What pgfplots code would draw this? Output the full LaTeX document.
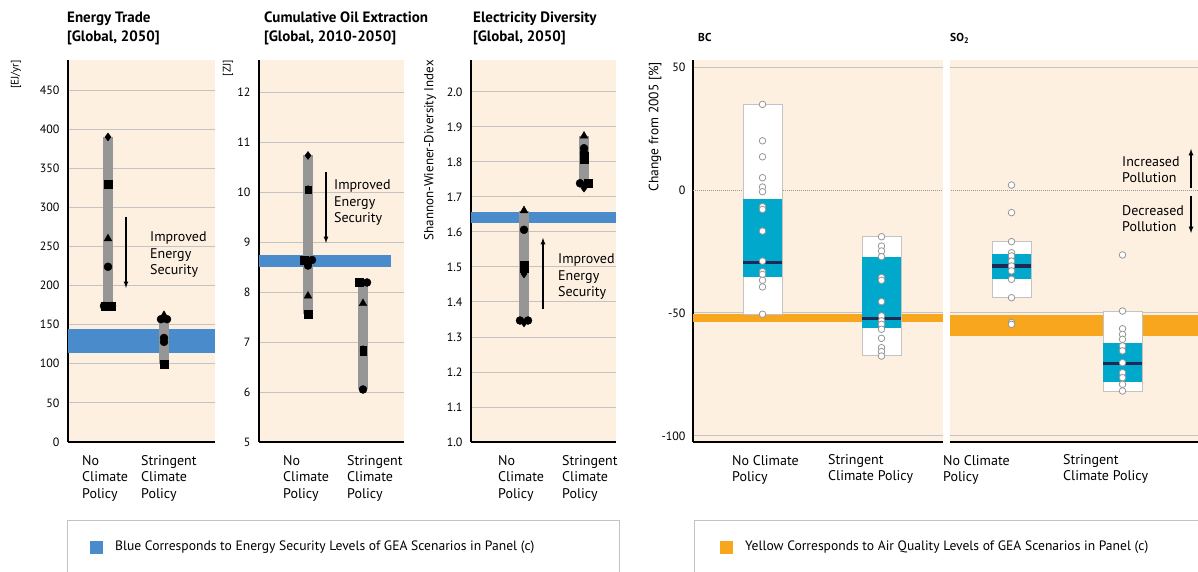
\documentclass[border=0pt]{standalone}
\usepackage{pgfplots}
\pgfplotsset{compat=1.18}
\usepackage{fontspec}
\setmainfont{PT Sans}
\definecolor{peach}{RGB}{253,240,225}
\definecolor{bandblue}{RGB}{74,139,203}
\definecolor{bargray}{RGB}{150,150,150}
\definecolor{boxcyan}{RGB}{0,168,204}
\definecolor{navy}{RGB}{28,42,85}
\definecolor{bandorange}{RGB}{249,166,31}
\definecolor{gridgray}{RGB}{195,195,195}
\definecolor{circgray}{RGB}{150,150,150}
\pgfplotsset{
  leftpanel/.style={
    anchor=south west, scale only axis, height=382pt,
    axis x line*=bottom, axis y line*=left,
    axis line style={line width=2pt, black, -},
    xtick=\empty, ymajorgrids, grid style={gridgray, line width=0.9pt},
    major tick length=0pt,
    axis background/.style={fill=peach},
    yticklabel style={font=\fontsize{12}{13}\selectfont, xshift=-5pt},
  },
  mk/.style={only marks, black, mark size=4pt, mark options={fill=black, draw=black}},
  circ/.style={only marks, mark=*, mark size=3.3pt, mark options={fill=white, draw=circgray, line width=0.8pt}},
}
\tikzset{
  ann/.style={anchor=north west, inner sep=0pt, align=left, font=\fontsize{14}{16.5}\selectfont},
  cat/.style={anchor=north west, inner sep=0pt, align=left, font=\fontsize{14}{16.5}\selectfont},
  ttl/.style={anchor=north west, inner sep=0pt, align=left, font=\bfseries\fontsize{15}{19}\selectfont},
}
\begin{document}
\begin{tikzpicture}
\useasboundingbox (0,0) rectangle (1198pt,572pt);

% ---------- Panel 1: Energy Trade ----------
\begin{axis}[leftpanel, at={(68pt,130pt)}, width=147pt,
  xmin=68, xmax=215, ymin=0, ymax=488.4,
  ytick={0,50,100,150,200,250,300,350,400,450},
  yticklabels={0,50,100,150,200,250,300,350,400,450}]
\addplot[fill=bandblue, draw=none] coordinates {(68,114) (215,114) (215,145) (68,145)} -- cycle;
\addplot[bargray, line width=10pt] coordinates {(108,174) (108,390)};
\addplot[bargray, line width=10pt] coordinates {(164,100) (164,157)};
\addplot[mk, mark=diamond*] coordinates {(108,390)};
\addplot[mk, mark=square*] coordinates {(108,330) (164,100) (105,174) (111,174)};
\addplot[mk, mark=triangle*, mark size=4.5pt] coordinates {(108,260) (164,162)};
\addplot[mk, mark=*] coordinates {(108,224) (104,174) (112,174) (161,157) (167,157) (164,133) (164,128)};
\draw[-latex, line width=1.2pt] (axis cs:126,288) -- (axis cs:126,197);
\node[ann] at (axis cs:150,268.5) {Improved\\Energy\\Security};
\end{axis}

% ---------- Panel 2: Cumulative Oil Extraction ----------
\begin{axis}[leftpanel, at={(259pt,130pt)}, width=145pt,
  xmin=259, xmax=404, ymin=5, ymax=12.64,
  ytick={5,6,7,8,9,10,11,12},
  yticklabels={5,6,7,8,9,10,11,12}]
\addplot[fill=bandblue, draw=none] coordinates {(259,8.5) (391,8.5) (391,8.74) (259,8.74)} -- cycle;
\addplot[bargray, line width=10pt] coordinates {(308,7.56) (308,10.73)};
\addplot[bargray, line width=10pt] coordinates {(363,6.05) (363,8.19)};
\addplot[mk, mark=diamond*] coordinates {(308,10.73) (308,10.05) (363,6.85) (363,6.81)};
\addplot[mk, mark=square*, mark size=3.3pt] coordinates {(308,10.05) (363,6.85) (363,6.81)};
\addplot[mk, mark=square*] coordinates {(308,7.56) (304,8.64) (359,8.19)};
\addplot[mk, mark=triangle*, mark size=4.5pt] coordinates {(308,7.92) (363,7.77)};
\addplot[mk, mark=*] coordinates {(312,8.64) (308,8.53) (367,8.19) (363,6.05)};
\draw[-latex, line width=1.2pt] (axis cs:326,10.4) -- (axis cs:326,8.98);
\node[ann] at (axis cs:334,10.24) {Improved\\Energy\\Security};
\end{axis}

% ---------- Panel 3: Electricity Diversity ----------
\begin{axis}[leftpanel, at={(471pt,130pt)}, width=145pt,
  xmin=471, xmax=616, ymin=1.0, ymax=2.091,
  ytick={1.0,1.1,1.2,1.3,1.4,1.5,1.6,1.7,1.8,1.9,2.0},
  yticklabels={1.0,1.1,1.2,1.3,1.4,1.5,1.6,1.7,1.8,1.9,2.0}]
\addplot[fill=bandblue, draw=none] coordinates {(471,1.626) (616,1.626) (616,1.656) (471,1.656)} -- cycle;
\addplot[bargray, line width=10pt] coordinates {(524,1.347) (524,1.661)};
\addplot[bargray, line width=10pt] coordinates {(584,1.725) (584,1.874)};
\addplot[mk, mark=triangle*, mark size=4.5pt] coordinates {(524,1.661) (584,1.874)};
\addplot[mk, mark=*] coordinates {(524,1.606) (584,1.839) (584,1.827) (520,1.347) (528,1.347) (580,1.739)};
\addplot[mk, mark=square*] coordinates {(524,1.506) (524,1.496) (584,1.817) (584,1.808) (588,1.739)};
\addplot[mk, mark=diamond*] coordinates {(524,1.48) (584,1.725) (524,1.340)};
\draw[-latex, line width=1.2pt] (axis cs:543,1.38) -- (axis cs:543,1.583);
\node[ann] at (axis cs:558,1.537) {Improved\\Energy\\Security};
\end{axis}

% ---------- Right panel: BC and SO2 ----------
\begin{axis}[anchor=south west, at={(693pt,130pt)}, scale only axis, width=505pt, height=382pt,
  xmin=693, xmax=1198, ymin=-102.44, ymax=52.85, clip=false,
  axis x line*=bottom, axis y line*=left, axis line style={line width=2.5pt, black, -},
  xtick=\empty, ytick={-100,-50,50}, yticklabels={-100,-50,50},
  extra y ticks={0}, extra y tick labels={0},
  extra y tick style={grid style={densely dotted, circgray, line width=1pt}},
  ymajorgrids, grid style={gridgray, line width=1pt}, major tick length=0pt,
  axis background/.style={fill=peach},
  yticklabel style={font=\fontsize{12}{13}\selectfont, xshift=-4pt}]
% orange bands
\addplot[fill=bandorange, draw=none] coordinates {(693,-50.5) (943,-50.5) (943,-53.5) (693,-53.5)} -- cycle;
\addplot[fill=bandorange, draw=none] coordinates {(950,-50.8) (1198,-50.8) (1198,-59.3) (950,-59.3)} -- cycle;
% white gap
\addplot[fill=white, draw=none] coordinates {(943,-104.5) (950,-104.5) (950,52.85) (943,52.85)} -- cycle;
% BC no climate
\addplot[fill=white, draw=gridgray, line width=0.8pt] coordinates {(743,35) (782,35) (782,-50.5) (743,-50.5)} -- cycle;
\addplot[fill=boxcyan, draw=none] coordinates {(743,-3.8) (782,-3.8) (782,-35.2) (743,-35.2)} -- cycle;
\addplot[navy, line width=3.5pt] coordinates {(743,-29.5) (782,-29.5)};
% BC stringent
\addplot[fill=white, draw=gridgray, line width=0.8pt] coordinates {(862,-19) (901,-19) (901,-67.2) (862,-67.2)} -- cycle;
\addplot[fill=boxcyan, draw=none] coordinates {(862,-27.1) (901,-27.1) (901,-56) (862,-56)} -- cycle;
\addplot[navy, line width=3.5pt] coordinates {(862,-52.2) (901,-52.2)};
% SO2 no climate
\addplot[fill=white, draw=gridgray, line width=0.8pt] coordinates {(992,-21) (1031,-21) (1031,-43.8) (992,-43.8)} -- cycle;
\addplot[fill=boxcyan, draw=none] coordinates {(992,-26.2) (1031,-26.2) (1031,-36.3) (992,-36.3)} -- cycle;
\addplot[navy, line width=3.5pt] coordinates {(992,-30.9) (1031,-30.9)};
% SO2 stringent
\addplot[fill=white, draw=gridgray, line width=0.8pt] coordinates {(1103,-49.2) (1142,-49.2) (1142,-81.7) (1103,-81.7)} -- cycle;
\addplot[fill=boxcyan, draw=none] coordinates {(1103,-62) (1142,-62) (1142,-77.9) (1103,-77.9)} -- cycle;
\addplot[navy, line width=3.5pt] coordinates {(1103,-70.5) (1142,-70.5)};
% scenario circles
\addplot[circ] coordinates {(762.5,34.8) (762.5,20) (762.5,13.5) (762.5,5) (762.5,1.2) (762.5,-0.7) (762.5,-6.8) (762.5,-7.9) (762.5,-16.7) (762.5,-28.9) (762.5,-33.2) (762.5,-34.3) (762.5,-36.7) (762.5,-39.4) (762.5,-50.5)};
\addplot[circ] coordinates {(881.5,-19) (881.5,-22.8) (881.5,-24.8) (881.5,-27.1) (881.5,-35.6) (881.5,-36.7) (881.5,-45.4) (881.5,-51.2) (881.5,-53.2) (881.5,-54.6) (881.5,-56.6) (881.5,-60.3) (881.5,-64.1) (881.5,-65.7) (881.5,-67.5)};
\addplot[circ] coordinates {(1011.5,2) (1011.5,-9.2) (1011.5,-21) (1011.5,-25.5) (1011.5,-26.8) (1011.5,-28.9) (1011.5,-30.9) (1011.5,-32.9) (1011.5,-36.3) (1011.5,-43.8) (1011.5,-53.9) (1011.5,-54.6)};
\addplot[circ] coordinates {(1122.5,-26.4) (1122.5,-49.2) (1122.5,-56.4) (1122.5,-58.7) (1122.5,-60.7) (1122.5,-63.4) (1122.5,-65.4) (1122.5,-70.2) (1122.5,-74.3) (1122.5,-76.3) (1122.5,-79) (1122.5,-81.7)};
% annotations
\node[ann] at (axis cs:1122,13.8) {Increased\\Pollution};
\node[ann] at (axis cs:1122,-6.2) {Decreased\\Pollution};
\draw[-latex, line width=1.2pt] (axis cs:1191,0.8) -- (axis cs:1191,16.7);
\draw[-latex, line width=1.2pt] (axis cs:1191,-2.4) -- (axis cs:1191,-17.5);
\end{axis}

% ---------- Titles ----------
\node[ttl] at (67pt,560pt) {Energy Trade\\{}[Global, 2050]};
\node[ttl] at (264pt,560pt) {Cumulative Oil Extraction\\{}[Global, 2010-2050]};
\node[ttl] at (473pt,560pt) {Electricity Diversity\\{}[Global, 2050]};
\node[anchor=base west, inner sep=0pt, font=\bfseries\fontsize{11.5}{12}\selectfont] at (698pt,530pt) {BC};
\node[anchor=base west, inner sep=0pt, font=\bfseries\fontsize{11.5}{12}\selectfont] at (950pt,530pt) {SO\textsubscript{2}};

% ---------- Y labels ----------
\node[rotate=90, anchor=east, inner sep=0pt, font=\fontsize{11}{12}\selectfont] at (16pt,512pt) {[EJ/yr]};
\node[rotate=90, anchor=east, inner sep=0pt, font=\fontsize{11}{12}\selectfont] at (228pt,512pt) {[ZJ]};
\node[rotate=90, anchor=east, inner sep=0pt, font=\fontsize{13}{14}\selectfont] at (430pt,512pt) {Shannon-Wiener-Diversity Index};
\node[rotate=90, anchor=east, inner sep=0pt, font=\fontsize{13.5}{14}\selectfont] at (655pt,510pt) {Change from 2005 [\%]};

% ---------- Category labels ----------
\node[cat] at (82pt,117pt) {No\\Climate\\Policy};
\node[cat] at (141pt,117pt) {Stringent\\Climate\\Policy};
\node[cat] at (283pt,117pt) {No\\Climate\\Policy};
\node[cat] at (347pt,117pt) {Stringent\\Climate\\Policy};
\node[cat] at (498pt,117pt) {No\\Climate\\Policy};
\node[cat] at (562pt,117pt) {Stringent\\Climate\\Policy};
\node[cat] at (732pt,117pt) {No Climate\\Policy};
\node[cat] at (828pt,118pt) {Stringent\\Climate Policy};
\node[cat] at (943pt,117pt) {No Climate\\Policy};
\node[cat] at (1063pt,118pt) {Stringent\\Climate Policy};

% ---------- Legend boxes ----------
\draw[gridgray, line width=0.8pt] (67pt,-5pt) rectangle (619pt,52pt);
\fill[bandblue] (90pt,18pt) rectangle (103pt,31pt);
\node[anchor=west, inner sep=0pt, font=\fontsize{13.6}{14}\selectfont] at (115pt,24.5pt) {Blue Corresponds to Energy Security Levels of GEA Scenarios in Panel (c)};
\draw[gridgray, line width=0.8pt] (694pt,-5pt) rectangle (1210pt,52pt);
\fill[bandorange] (720pt,18pt) rectangle (733pt,31pt);
\node[anchor=west, inner sep=0pt, font=\fontsize{13.6}{14}\selectfont] at (745pt,24.5pt) {Yellow Corresponds to Air Quality Levels of GEA Scenarios in Panel (c)};
\end{tikzpicture}
\end{document}
